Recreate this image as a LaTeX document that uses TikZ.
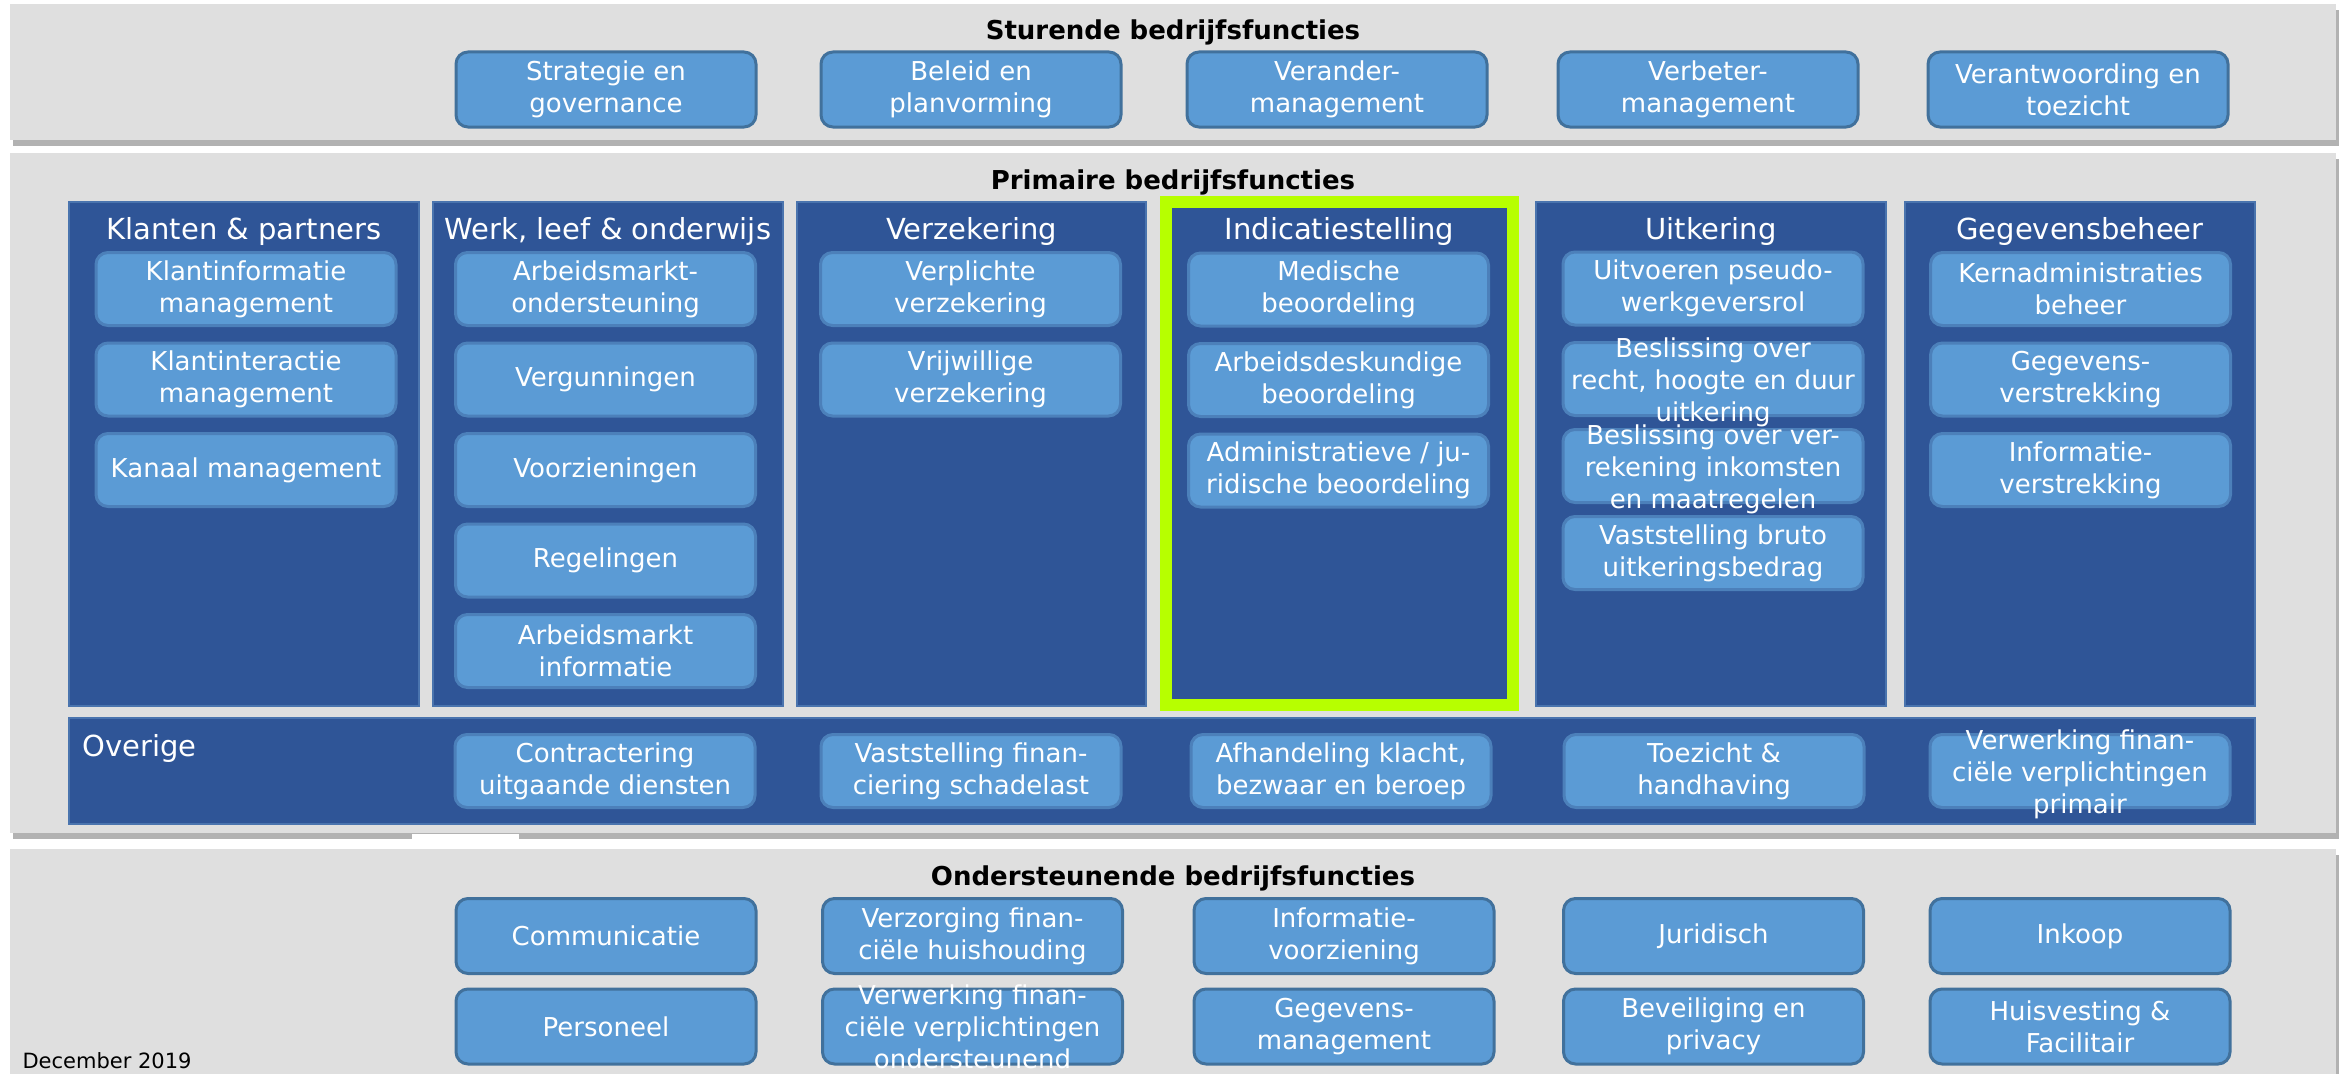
\documentclass[tikz,border=0pt]{standalone}
\usepackage{fontspec}
\setmainfont{DejaVu Sans}
\usetikzlibrary{positioning,shadows}

\definecolor{bandgray}{HTML}{DFDFDF}
\definecolor{colblue}{HTML}{2F5597}
\definecolor{colline}{HTML}{4A74AE}
\definecolor{fnblue}{HTML}{5B9BD5}
\definecolor{fnline}{HTML}{4C80BA}
\definecolor{fnlinedark}{HTML}{41719C}
\definecolor{signal}{HTML}{B7FF00}

% text that runs out of its box
\newcommand\spill[1]{\smash{\raisebox{-10pt}{\begin{tabular}{@{}c@{}}#1\end{tabular}}}}

\begin{document}
\begin{tikzpicture}[x=1pt,y=-1pt,node distance=90.5pt,on grid,
        bandbox/.style={fill=bandgray,drop shadow={shadow xshift=3pt,shadow yshift=-6pt,fill=black,opacity=.3}},
        colbox/.style={fill=colblue,draw=colline,line width=1.5pt},
        fn/.style={rectangle,rounded corners=12pt,fill=fnblue,draw=fnline,line width=3pt,
          minimum width=300pt,minimum height=73pt,inner sep=2pt,align=center,text=white,
          font=\fontsize{26}{32}\selectfont},
        topfn/.style={fn,draw=fnlinedark,minimum height=75pt},
        coltitle/.style={anchor=base,text=white,font=\fontsize{29}{35}\selectfont},
        bandtitle/.style={anchor=base,font=\fontsize{26}{32}\selectfont\bfseries}]
      \useasboundingbox (0,0) rectangle (2349,1073);
      \fill[white] (0,0) rectangle (2349,1073);
      %% the three bands
      \path[bandbox] (10,4) rectangle (2336,140);
      \path[bandbox] (10,153) rectangle (2336,833);
      \path[bandbox] (10,849) rectangle (2336,1090);
      \fill[white] (412,834) rectangle (519,847);
      \node[bandtitle] (sturend) at (1173,40) {Sturende bedrijfsfuncties};
      \node[bandtitle] (primair) at (1173,189) {Primaire bedrijfsfuncties};
      \node[bandtitle] (onderst) at (1173,885) {Ondersteunende bedrijfsfuncties};

      %% sturende functies
      \node[topfn] (strat) at (606,89.5) {Strategie en\\governance};
      \node[topfn] (beleid) at (971,89.5) {Beleid en\\planvorming};
      \node[topfn] (verand) at (1337,89.5) {Verander-\\management};
      \node[topfn] (verbet) at (1708,89.5) {Verbeter-\\management};
      \node[topfn] (verantw) at (2078,89.5) {Verantwoording en\\toezicht};

      %% primaire kolommen
      \foreach \l/\r in {69/419,433/783,797/1146,1536/1886,1905/2255}
        \draw[colbox] (\l,202) rectangle (\r,706);
      \draw[colbox,draw=signal,line width=12pt] (1166,202) rectangle (1513,705);
      \draw[colbox] (69,718) rectangle (2255,824);

      \node[coltitle] (klanten) at (244,239) {Klanten \& partners};
      \node[coltitle] (werk) at (608,239) {Werk, leef \& onderwijs};
      \node[coltitle] (verz) at (971.5,239) {Verzekering};
      \node[coltitle] (indic) at (1339.5,239) {Indicatiestelling};
      \node[coltitle] (uitk) at (1711,239) {Uitkering};
      \node[coltitle] (gegev) at (2080,239) {Gegevensbeheer};
      \node[coltitle,anchor=base west] (overige) at (79,756) {Overige};

      \node[fn] (kp1) at (246,289) {Klantinformatie\\management};
      \node[fn] (kp2) [below=of kp1] {Klantinteractie\\management};
      \node[fn] (kp3) [below=of kp2] {Kanaal management};

      \node[fn] (wlo1) at (605.5,289) {Arbeidsmarkt-\\ondersteuning};
      \node[fn] (wlo2) [below=of wlo1] {Vergunningen};
      \node[fn] (wlo3) [below=of wlo2] {Voorzieningen};
      \node[fn] (wlo4) [below=of wlo3] {Regelingen};
      \node[fn] (wlo5) [below=of wlo4] {Arbeidsmarkt\\informatie};

      \node[fn] (verz1) at (970.5,289) {Verplichte\\verzekering};
      \node[fn] (verz2) [below=of verz1] {Vrijwillige\\verzekering};

      \node[fn] (ind1) at (1338.5,289.5) {Medische\\beoordeling};
      \node[fn] (ind2) [below=of ind1] {Arbeidsdeskundige\\beoordeling};
      \node[fn] (ind3) [below=of ind2] {Administratieve / ju-\\ridische beoordeling};

      \node[fn] (uit1) at (1713,288.5) {Uitvoeren pseudo-\\werkgeversrol};
      \node[fn] (uit2) [below=of uit1] {\spill{Beslissing over\\recht, hoogte en duur\\uitkering}};
      \node[fn] (uit3) [below=87pt of uit2] {\spill{Beslissing over ver-\\rekening inkomsten\\en maatregelen}};
      \node[fn] (uit4) [below=87pt of uit3] {Vaststelling bruto\\uitkeringsbedrag};

      \node[fn] (geg1) at (2080.5,289) {Kernadministraties\\beheer};
      \node[fn] (geg2) [below=of geg1] {Gegevens-\\verstrekking};
      \node[fn] (geg3) [below=of geg2] {Informatie-\\verstrekking};

      \node[fn] (ov1) at (605,771) {Contractering\\uitgaande diensten};
      \node[fn] (ov2) at (971,771) {Vaststelling finan-\\ciering schadelast};
      \node[fn] (ov3) at (1341,771) {Afhandeling klacht,\\bezwaar en beroep};
      \node[fn] (ov4) at (1714,771) {Toezicht \&\\handhaving};
      \node[fn] (ov5) at (2080,771) {\spill{Verwerking finan-\\ciële verplichtingen\\primair}};

      %% ondersteunende functies
      \node[topfn] (ond1) at (606,936) {Communicatie};
      \node[topfn] (ond2) [below=of ond1] {Personeel};
      \node[topfn] (ond3) at (972.5,936) {Verzorging finan-\\ciële huishouding};
      \node[topfn] (ond4) [below=of ond3] {\spill{Verwerking finan-\\ciële verplichtingen\\ondersteunend}};
      \node[topfn] (ond5) at (1344,936) {Informatie-\\voorziening};
      \node[topfn] (ond6) [below=of ond5] {Gegevens-\\management};
      \node[topfn] (ond7) at (1713.5,936) {Juridisch};
      \node[topfn] (ond8) [below=of ond7] {Beveiliging en\\privacy};
      \node[topfn] (ond9) at (2080,936) {Inkoop};
      \node[topfn] (ond10) [below=of ond9] {Huisvesting \&\\Facilitair};

      \node[anchor=base west,font=\fontsize{21}{25}\selectfont] (datum) at (19,1068) {December 2019};
    \end{tikzpicture}
\end{document}
